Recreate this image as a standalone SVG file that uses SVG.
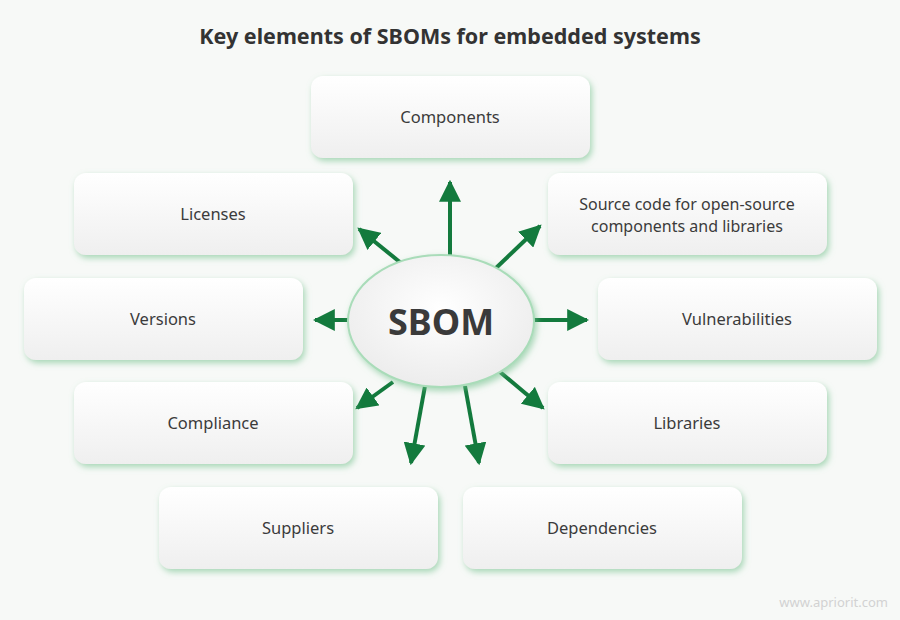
<svg xmlns="http://www.w3.org/2000/svg" width="900" height="620" viewBox="0 0 900 620">
<defs>
<linearGradient id="boxg" x1="0" y1="0" x2="0" y2="1">
<stop offset="0" stop-color="#ffffff"/>
<stop offset="1" stop-color="#efefef"/>
</linearGradient>
<radialGradient id="ellg" cx="0.5" cy="0.4" r="0.6">
<stop offset="0" stop-color="#ffffff"/>
<stop offset="1" stop-color="#ececec"/>
</radialGradient>
<filter id="sh" x="-10%" y="-20%" width="125%" height="150%">
<feDropShadow dx="2" dy="3" stdDeviation="3" flood-color="#6fbf8a" flood-opacity="0.6"/>
</filter>
<marker id="ah" viewBox="0 0 10 10" refX="9" refY="5" markerWidth="5.5" markerHeight="5.5" orient="auto" markerUnits="strokeWidth">
<path d="M0,0 L10,5 L0,10 z" fill="#137a3d"/>
</marker>
</defs>
<style>
.box{fill:url(#boxg);filter:url(#sh);}
.lbl{font-family:"Noto Sans","Open Sans",sans-serif;font-size:16.5px;fill:#3b3b3b;text-anchor:middle;}
.con line{stroke:#137a3d;stroke-width:4;marker-end:url(#ah);}
</style>
<rect width="900" height="620" fill="#f7f9f7"/>
<text x="450" y="44" style="font-family:'Noto Sans','Open Sans',sans-serif;font-size:21.5px;font-weight:bold;fill:#333;text-anchor:middle">Key elements of SBOMs for embedded systems</text>

<g class="con">
<line x1="450" y1="256" x2="450" y2="182"/>
<line x1="401" y1="263" x2="359" y2="229"/>
<line x1="496" y1="268" x2="540" y2="226"/>
<line x1="349" y1="320" x2="315" y2="320"/>
<line x1="533" y1="320" x2="587" y2="320"/>
<line x1="393" y1="382" x2="357" y2="408"/>
<line x1="500" y1="372" x2="543" y2="408"/>
<line x1="425" y1="386" x2="411" y2="463"/>
<line x1="465" y1="386" x2="479" y2="463"/>
</g>

<g id="sbom">
<ellipse cx="441" cy="321" rx="93" ry="66" fill="url(#ellg)" stroke="#a9dcb9" stroke-width="2" filter="url(#sh)"/>
<text x="441" y="335" style="font-family:'Noto Sans','Open Sans',sans-serif;font-size:36px;font-weight:bold;fill:#3a3a3a;text-anchor:middle">SBOM</text>
</g>

<g id="components"><rect class="box" x="311" y="76" width="279" height="82" rx="12"/><text class="lbl" x="450" y="123">Components</text></g>
<g id="licenses"><rect class="box" x="74" y="173" width="279" height="82" rx="12"/><text class="lbl" x="213" y="220">Licenses</text></g>
<g id="source"><rect class="box" x="548" y="173" width="279" height="82" rx="12"/><text class="lbl" x="687" y="210" style="font-size:16px">Source code for open-source</text><text class="lbl" x="687" y="232" style="font-size:16px">components and libraries</text></g>
<g id="versions"><rect class="box" x="24" y="278" width="279" height="82" rx="12"/><text class="lbl" x="163" y="325">Versions</text></g>
<g id="vulnerabilities"><rect class="box" x="598" y="278" width="279" height="82" rx="12"/><text class="lbl" x="737" y="325">Vulnerabilities</text></g>
<g id="compliance"><rect class="box" x="74" y="382" width="279" height="82" rx="12"/><text class="lbl" x="213" y="429">Compliance</text></g>
<g id="libraries"><rect class="box" x="548" y="382" width="279" height="82" rx="12"/><text class="lbl" x="687" y="429">Libraries</text></g>
<g id="suppliers"><rect class="box" x="159" y="487" width="279" height="82" rx="12"/><text class="lbl" x="298" y="534">Suppliers</text></g>
<g id="dependencies"><rect class="box" x="463" y="487" width="279" height="82" rx="12"/><text class="lbl" x="602" y="534">Dependencies</text></g>

<text x="888" y="607" style="font-family:'Noto Sans','Open Sans',sans-serif;font-size:13px;fill:#d2d2d2;text-anchor:end">www.apriorit.com</text>
</svg>
